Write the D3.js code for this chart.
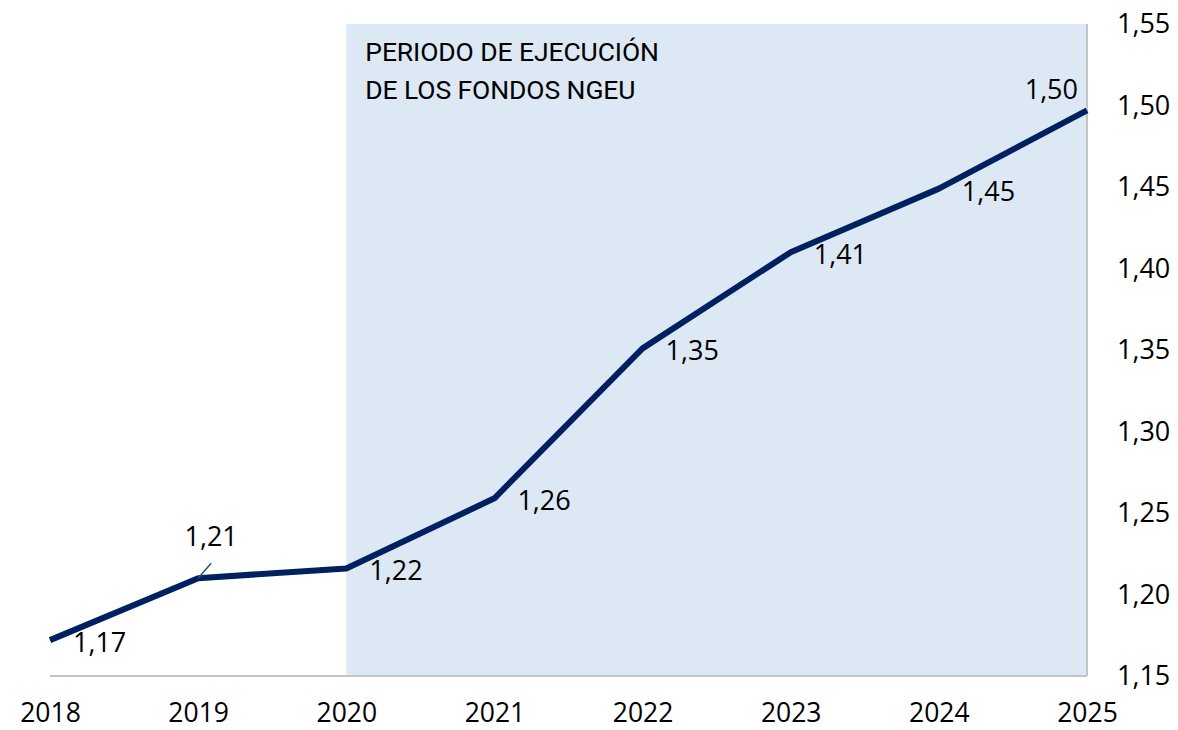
<html>
<head>
  <script src="https://d3js.org/d3.v7.min.js"></script>
  <style>
    body { margin: 0; background: #fff; }
    text { font-family: 'Open Sans', sans-serif; fill: #000; }
  </style>
</head>
<body>
<svg id="chart" width="1178" height="730"></svg>
<script>
// years and values
var years = [2018, 2019, 2020, 2021, 2022, 2023, 2024, 2025]
var values = [1.172, 1.210, 1.216, 1.259, 1.351, 1.410, 1.449, 1.497]
var valueLabels = ['1,17', '1,21', '1,22', '1,26', '1,35', '1,41', '1,45', '1,50']
var labelSide = ['right', 'above', 'right', 'right', 'right', 'right', 'right', 'aboveLeft']
var yTicks = [1.15, 1.20, 1.25, 1.30, 1.35, 1.40, 1.45, 1.50, 1.55]
var shadeYears = [2020, 2025]
var noteLines = ['PERIODO DE EJECUCIÓN', 'DE LOS FONDOS NGEU']

var settings = {
  width: 1178,
  height: 730,
  margin: { top: 24, right: 91, bottom: 54, left: 50 },
  lineColor: '#002060',
  shadeColor: '#dde8f5',
  axisColor: '#c4c4c4'
}

var m = settings.margin
var svg = d3.select('#chart')

var x = d3.scaleLinear()
  .domain(d3.extent(years))
  .range([m.left, settings.width - m.right])

var y = d3.scaleLinear()
  .domain([yTicks[0], yTicks[yTicks.length - 1]])
  .range([settings.height - m.bottom, m.top])

// shaded NGEU period
svg.append('rect')
  .attr('x', x(shadeYears[0]))
  .attr('y', y.range()[1])
  .attr('width', x(shadeYears[1]) - x(shadeYears[0]))
  .attr('height', y.range()[0] - y.range()[1])
  .attr('fill', settings.shadeColor)

svg.selectAll('.note')
  .data(noteLines)
  .enter().append('text')
  .attr('class', 'note')
  .attr('x', x(shadeYears[0]) + 19)
  .attr('y', function (d, i) { return 61 + i * 38 })
  .style('font-family', 'Roboto, sans-serif')
  .style('font-size', '26.5px')
  .style('letter-spacing', '-0.1px')
  .text(function (d) { return d })

// axes lines
svg.append('line')
  .attr('x1', x.range()[0]).attr('x2', x.range()[1])
  .attr('y1', y.range()[0]).attr('y2', y.range()[0])
  .attr('stroke', settings.axisColor).attr('stroke-width', 2)

svg.append('line')
  .attr('x1', x.range()[1]).attr('x2', x.range()[1])
  .attr('y1', y.range()[0]).attr('y2', y.range()[1])
  .attr('stroke', settings.axisColor).attr('stroke-width', 2)

// x labels
var xAxis = d3.axisBottom(x).tickValues(years).tickFormat(d3.format('d')).tickSize(0).tickPadding(0)
var gx = svg.append('g')
  .attr('transform', 'translate(0,' + (y.range()[0]) + ')')
  .call(xAxis)
gx.select('.domain').remove()
gx.selectAll('text')
  .attr('dy', null)
  .attr('y', 46)
  .style('font-family', "'Open Sans', sans-serif")
  .style('font-size', '26.5px')
  .attr('fill', '#000')

// y labels on the right
var yAxis = d3.axisRight(y).tickValues(yTicks)
  .tickFormat(function (d) { return d3.format('.2f')(d).replace('.', ',') })
  .tickSize(0).tickPadding(30)
var gy = svg.append('g')
  .attr('transform', 'translate(' + x.range()[1] + ',0)')
  .call(yAxis)
gy.select('.domain').remove()
gy.selectAll('text')
  .style('font-family', "'Open Sans', sans-serif")
  .style('font-size', '27px')
  .attr('fill', '#000')

// the line
var line = d3.line()
  .x(function (d, i) { return x(years[i]) })
  .y(function (d) { return y(d) })

svg.append('path')
  .datum(values)
  .attr('d', line)
  .attr('fill', 'none')
  .attr('stroke', settings.lineColor)
  .attr('stroke-width', 6)
  .attr('stroke-linejoin', 'round')

// leader line for the 2019 label
svg.append('line')
  .attr('x1', x(years[1])).attr('y1', y(values[1]))
  .attr('x2', x(years[1]) + 13).attr('y2', y(values[1]) - 15)
  .attr('stroke', '#1d5a72').attr('stroke-width', 1.5)

// value labels
svg.selectAll('.vlabel')
  .data(values)
  .enter().append('text')
  .attr('class', 'vlabel')
  .style('font-size', '27px')
  .attr('text-anchor', function (d, i) {
    if (labelSide[i] === 'above') return 'middle'
    if (labelSide[i] === 'aboveLeft') return 'end'
    return 'start'
  })
  .attr('x', function (d, i) {
    var px = x(years[i])
    if (labelSide[i] === 'above') return px + 13
    if (labelSide[i] === 'aboveLeft') return px - 9
    return px + 23
  })
  .attr('y', function (d, i) {
    var py = y(d)
    if (labelSide[i] === 'above') return py - 32
    if (labelSide[i] === 'aboveLeft') return py - 11
    return py + 12
  })
  .text(function (d, i) { return valueLabels[i] })
</script>
</body>
</html>
